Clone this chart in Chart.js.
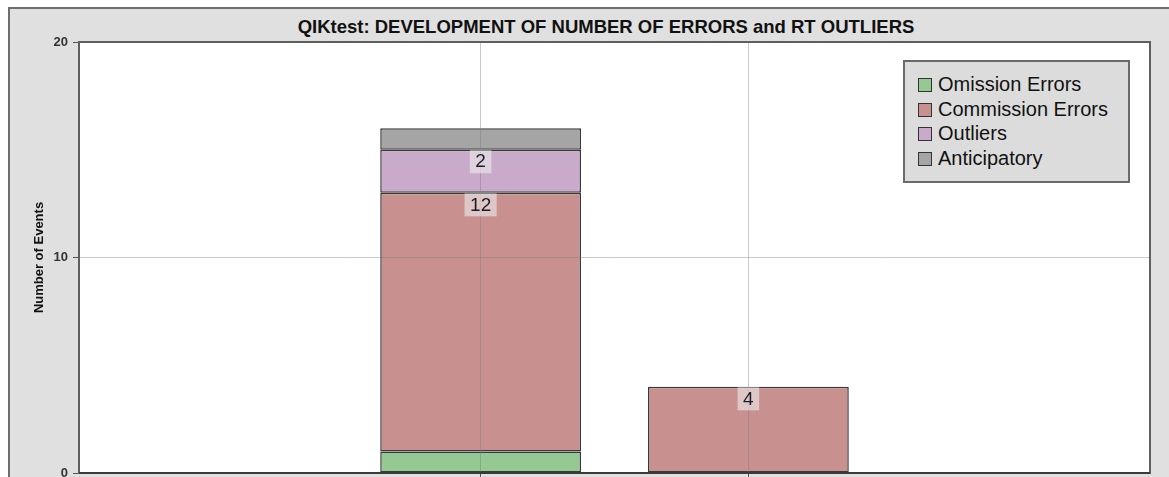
<!DOCTYPE html>
<html lang="en">
<head>
  <meta charset="UTF-8" />
  <title>QIKtest: errors and RT outliers</title>
  <script src="https://cdn.jsdelivr.net/npm/chart.js"></script>
  <style>
    body {
      margin: 0;
      width: 1169px;
      height: 477px;
      overflow: hidden;
      position: relative;
      background: #fff;
      font-family: Arial, "Liberation Sans", sans-serif;
    }
    .frame {
      position: absolute;
      left: 8px;
      top: 7px;
      width: 1220px;
      height: 540px;
      background: #e0e0e0;
      border: 2px solid #6e6e6e;
    }
    .title {
      position: absolute;
      left: 606px;
      top: 17px;
      transform: translateX(-50%);
      white-space: nowrap;
      font-weight: bold;
      font-size: 18.5px;
      line-height: 20px;
      color: #111;
    }
    canvas {
      position: absolute;
      left: 0;
      top: 0;
    }
    .legend {
      position: absolute;
      left: 903px;
      top: 60px;
      width: 223px;
      height: 119px;
      box-sizing: content-box;
      background: #dcdcdc;
      border: 2px solid #6a6a6a;
    }
    .legend .item {
      position: absolute;
      left: 13px;
      height: 24px;
      line-height: 24px;
      font-size: 20px;
      color: #111;
      white-space: nowrap;
    }
    .legend .sw {
      display: inline-block;
      width: 12px;
      height: 12px;
      border: 1.5px solid #333;
      margin-right: 6px;
      vertical-align: -1px;
    }
  </style>
</head>
<body>
  <div class="frame"></div>
  <div class="title">QIKtest: DEVELOPMENT OF NUMBER OF ERRORS and RT OUTLIERS</div>
  <canvas id="chart" width="1169" height="520"></canvas>
  <div class="legend" id="legend"></div>

  <script>
    // categories on the x axis (outer ones are empty padding slots)
    const categories = ['', '1', '2', ''];

    const seriesNames = ['Omission Errors', 'Commission Errors', 'Outliers', 'Anticipatory'];
    const seriesColors = ['#95c993', '#c89190', '#caaacb', '#a5a5a5'];

    const omission = [null, 1, null, null];
    const commission = [null, 12, 4, null];
    const outliers = [null, 2, null, null];
    const anticipatory = [null, 1, null, null];

    const yTicks = [0, 10, 20];

    const seriesValues = [omission, commission, outliers, anticipatory];

    // legend
    const legendEl = document.getElementById('legend');
    seriesNames.forEach((name, i) => {
      const row = document.createElement('div');
      row.className = 'item';
      row.style.top = (10 + i * 24.5) + 'px';
      row.innerHTML = '<span class="sw" style="background:' + seriesColors[i] + '"></span>' + name;
      legendEl.appendChild(row);
    });

    const plotFrame = {
      id: 'plotFrame',
      beforeDraw(chart) {
        const { ctx, chartArea: a } = chart;
        ctx.save();
        ctx.fillStyle = '#fff';
        ctx.fillRect(a.left, a.top, a.right - a.left, a.bottom - a.top);
        ctx.restore();
      },
      afterDraw(chart) {
        const { ctx, chartArea: a } = chart;
        ctx.save();
        ctx.strokeStyle = '#5e5e5e';
        ctx.lineWidth = 2;
        ctx.strokeRect(a.left, a.top, a.right - a.left, a.bottom - a.top);
        ctx.strokeStyle = '#3a3a3a';
        ctx.beginPath();
        ctx.moveTo(a.left, a.bottom);
        ctx.lineTo(a.right, a.bottom);
        ctx.stroke();

        // value labels
        ctx.font = '19px Arial, "Liberation Sans", sans-serif';
        ctx.textAlign = 'center';
        ctx.textBaseline = 'middle';
        chart.data.datasets.forEach((ds, di) => {
          const meta = chart.getDatasetMeta(di);
          meta.data.forEach((bar, i) => {
            const v = ds.data[i];
            if (v == null || v < 2) return;
            const txt = String(v);
            const w = ctx.measureText(txt).width + 11;
            const top = bar.y + 0.5;
            ctx.fillStyle = 'rgba(236,236,236,0.6)';
            ctx.fillRect(bar.x - w / 2, top, w, 23);
            ctx.fillStyle = '#1c1c28';
            ctx.fillText(txt, bar.x, top + 12);
          });
        });
        ctx.restore();
      }
    };

    new Chart(document.getElementById('chart').getContext('2d'), {
      type: 'bar',
      data: {
        labels: categories,
        datasets: seriesNames.map((name, i) => ({
          label: name,
          data: seriesValues[i],
          backgroundColor: seriesColors[i],
          borderColor: 'rgba(35,35,35,0.9)',
          borderWidth: 1.5,
          borderSkipped: false,
          categoryPercentage: 1,
          barPercentage: 0.75
        }))
      },
      options: {
        responsive: false,
        animation: false,
        devicePixelRatio: 1,
        layout: { padding: { left: 0, right: 19, top: 42, bottom: 0 } },
        plugins: {
          legend: { display: false },
          title: { display: false },
          tooltip: { enabled: false }
        },
        scales: {
          x: {
            stacked: true,
            afterFit: (s) => { s.height = 47; },
            border: { display: false },
            grid: {
              offset: false,
              z: 1,
              tickLength: 6,
              color: (c) => categories[c.index] ? 'rgba(120,120,120,0.4)' : 'transparent',
              tickColor: (c) => categories[c.index] ? '#555' : 'transparent'
            },
            ticks: { font: { size: 13, weight: 'bold' }, color: '#333' }
          },
          y: {
            stacked: true,
            min: 0,
            max: 20,
            afterFit: (s) => { s.width = 79; },
            afterBuildTicks: (s) => { s.ticks = yTicks.map(v => ({ value: v })); },
            border: { display: false },
            grid: {
              z: 1,
              tickLength: 6,
              color: 'rgba(120,120,120,0.4)',
              tickColor: '#555'
            },
            ticks: {
              padding: 5,
              font: { size: 13, weight: 'bold' },
              color: '#333'
            },
            title: {
              display: true,
              text: 'Number of Events',
              font: { size: 13, weight: 'bold' },
              color: '#111',
              padding: { top: 32 }
            }
          }
        }
      },
      plugins: [plotFrame]
    });
  </script>
</body>
</html>
